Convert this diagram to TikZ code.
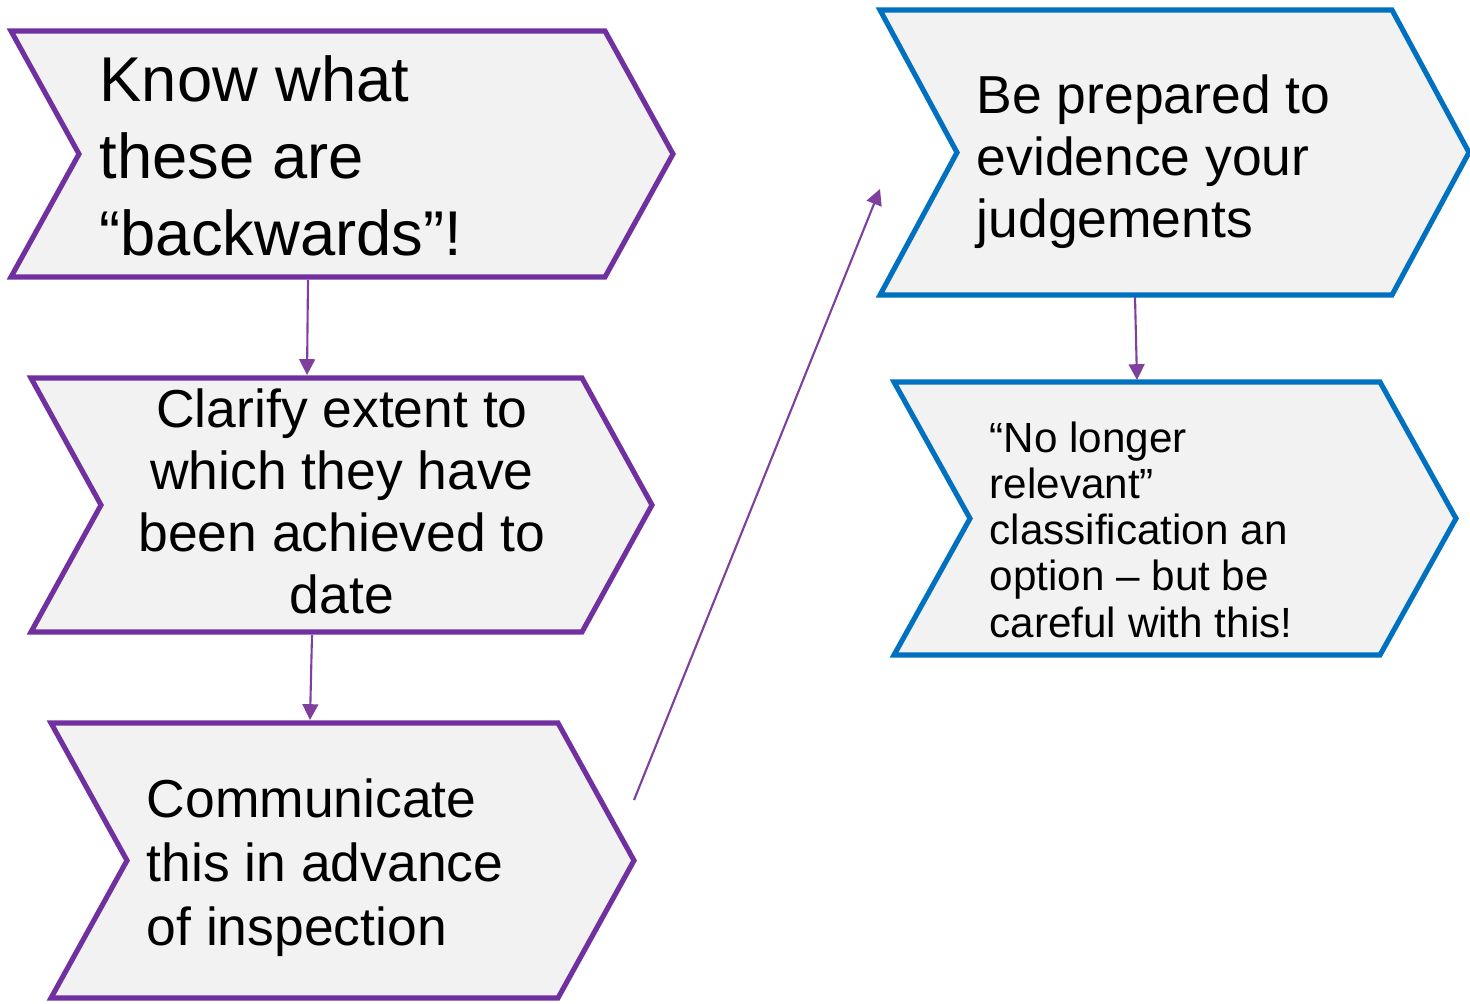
\documentclass[tikz,border=0pt]{standalone}
\usepackage{fontspec}
\setmainfont{Liberation Sans}
\usetikzlibrary{arrows.meta}
\definecolor{stepviolet}{HTML}{7030A0}
\definecolor{stepblue}{HTML}{0070C0}
\definecolor{stepgrey}{HTML}{F2F2F2}
\definecolor{lineviolet}{HTML}{7E3F9D}
\begin{document}
\begin{tikzpicture}[x=0.01cm,y=-0.01cm,
    stepshape/.style={fill=stepgrey,line width=1.45pt},
    stepline/.style={draw=lineviolet,line width=0.6pt,-{Triangle[length=4.5pt,width=4.5pt]}},
    steptext/.style={inner sep=0pt,anchor=base west,align=left}]
     \useasboundingbox (0,0) rectangle (1470,1003);
     % Chevrons: name/colour/left/top/right/bottom/depth
     \foreach \n/\c/\xl/\yt/\xr/\yb/\d in {s1/stepviolet/11/31/605/277/68,
       s2/stepviolet/31/378/582/632/70,s3/stepviolet/51/723/558/998/76,
       s4/stepblue/880/10/1392/295/77,s5/stepblue/894/382/1380/655/76} {
      \draw[stepshape,draw=\c] (\xl,\yt) coordinate (\n-nw) -- (\xr,\yt)
        -- (\xr+\d,{(\yt+\yb)/2}) -- (\xr,\yb) -- (\xl,\yb)
        -- (\xl+\d,{(\yt+\yb)/2}) -- cycle;
     };
     % Texts (placed at the baseline of their last line)
     \node[steptext,font=\fontsize{18}{21.8}\selectfont] (t1) at (99,255)
       {Know what\\these are\\“backwards”!};
     \node[steptext,anchor=base,align=center,font=\fontsize{15.2}{17.6}\selectfont] (t2) at (342,613)
       {Clarify extent to\\which they have\\been achieved to\\date};
     \node[steptext,font=\fontsize{15.2}{18.2}\selectfont] (t3) at (146,945)
       {Communicate\\this in advance\\of inspection};
     \node[steptext,font=\fontsize{15.2}{17.6}\selectfont] (t4) at (976,237)
       {Be prepared to\\evidence your\\judgements};
     \node[steptext,font=\fontsize{12}{13.1}\selectfont] (t5) at (989,637)
       {“No longer\\relevant”\\classification an\\option – but be\\careful with this!};
     % Connectors
     \coordinate (s1-out) at (308,280);
     \coordinate (s2-in) at (307,375);
     \coordinate (s2-out) at (312,635);
     \coordinate (s3-in) at (310,720);
     \coordinate (s3-out) at (634,800);
     \coordinate (s4-in) at (880,189);
     \coordinate (s4-out) at (1135,297);
     \coordinate (s5-in) at (1137,380);
     \foreach \a/\b in {s1-out/s2-in,s2-out/s3-in,s3-out/s4-in,s4-out/s5-in}
      \draw[stepline] (\a) -- (\b);
\end{tikzpicture}
\end{document}
